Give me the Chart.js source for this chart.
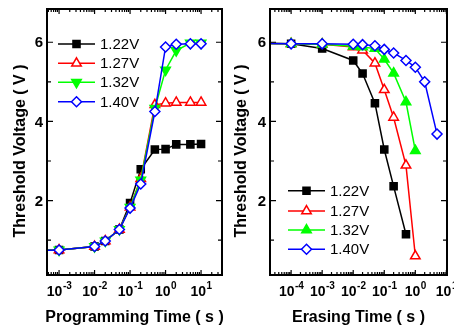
<!DOCTYPE html>
<html>
<head>
<meta charset="utf-8">
<script src="https://cdn.jsdelivr.net/npm/chart.js@4.4.1/dist/chart.umd.min.js"></script>
<style>
  body { margin: 0; background: #fff; width: 454px; height: 332px; position: relative; overflow: hidden; }
  canvas { position: absolute; top: 0; }
  #prog { left: 0; }
  #erase { left: 228px; }
</style>
</head>
<body>
<canvas id="prog" width="230" height="332" style="width:230px;height:332px"></canvas>
<canvas id="erase" width="226" height="332" style="width:226px;height:332px"></canvas>
<script>
const seriesLabels = ['1.22V', '1.27V', '1.32V', '1.40V'];

// programming (left panel), time in s
const progTime = [1e-4, 1e-3, 1e-2, 2e-2, 5e-2, 1e-1, 2e-1, 5e-1, 1, 2, 5, 10];
const prog122 = [0.73, 0.75, 0.84, 0.98, 1.27, 1.94, 2.79, 3.29, 3.30, 3.42, 3.42, 3.43];
const prog127 = [0.73, 0.75, 0.84, 0.98, 1.27, 1.83, 2.55, 4.42, 4.46, 4.48, 4.48, 4.48];
const prog132 = [0.73, 0.75, 0.84, 0.98, 1.27, 1.83, 2.52, 4.33, 5.30, 5.79, 5.98, 5.98];
const prog140 = [0.73, 0.75, 0.84, 0.98, 1.27, 1.81, 2.42, 4.25, 5.88, 5.95, 5.96, 5.96];

// erasing (right panel)
const eraseTime = [1e-5, 1e-4, 1e-3, 1e-2, 2e-2, 5e-2, 1e-1, 2e-1, 5e-1, 1, 2, 5];
const erase122 = [5.97, 5.96, 5.84, 5.54, 5.21, 4.46, 3.29, 2.36, 1.15];
const erase127 = [5.97, 5.96, 5.95, 5.88, 5.80, 5.47, 4.80, 4.10, 2.89, 0.60];
const erase132 = [5.97, 5.96, 5.95, 5.90, 5.88, 5.84, 5.57, 5.22, 4.49, 3.26];
const erase140 = [5.97, 5.96, 5.96, 5.95, 5.94, 5.91, 5.82, 5.73, 5.54, 5.37, 5.00, 3.68];

const yTicks = [2, 4, 6];
const yMinorTicks = [1, 3, 5];

const FONT = '"Liberation Sans", Arial, sans-serif';
const colors = ['#000000', '#ff0000', '#00ff00', '#0000ff'];

const pts = (xs, ys) => ys.map((v, i) => ({ x: xs[i], y: v }));

function makeSets(xs, lists, greenRot) {
  const styles = [
    { pointStyle: 'rect', fill: colors[0], radius: 5, rot: 0 },
    { pointStyle: 'triangle', fill: '#ffffff', radius: 5.5, rot: 0 },
    { pointStyle: 'triangle', fill: colors[2], radius: 5.5, rot: greenRot },
    { pointStyle: 'rectRot', fill: '#ffffff', radius: 5, rot: 0 }
  ];
  return lists.map((ys, i) => ({
    label: seriesLabels[i],
    data: pts(xs, ys),
    borderColor: colors[i],
    backgroundColor: styles[i].fill,
    pointBackgroundColor: styles[i].fill,
    pointBorderColor: colors[i],
    pointStyle: styles[i].pointStyle,
    pointRotation: styles[i].rot,
    pointRadius: styles[i].radius,
    pointBorderWidth: 1.5,
    borderWidth: 1.5,
    order: 4 - i
  }));
}

function drawMarker(ctx, ds, x, y) {
  ctx.fillStyle = ds.pointBackgroundColor;
  ctx.strokeStyle = ds.pointBorderColor;
  ctx.lineWidth = ds.pointBorderWidth;
  Chart.helpers.drawPoint(ctx, {
    pointStyle: ds.pointStyle,
    rotation: ds.pointRotation,
    radius: ds.pointRadius,
    borderWidth: ds.pointBorderWidth
  }, x, y);
}

function framePlugin(opt) {
  return {
    id: 'frame',
    afterDatasetsDraw(chart) {
      const { ctx, chartArea: a } = chart;
      const x = chart.scales.x, y = chart.scales.y;
      ctx.save();
      ctx.strokeStyle = '#000';
      ctx.fillStyle = '#000';

      // inward ticks on all four sides
      ctx.lineWidth = 1.2;
      ctx.beginPath();
      const lo = Math.floor(Math.log10(x.min)), hi = Math.ceil(Math.log10(x.max));
      for (let d = lo; d <= hi; d++) {
        for (let m = 1; m < 10; m++) {
          const v = m * Math.pow(10, d);
          if (v < x.min || v > x.max) continue;
          const px = x.getPixelForValue(v), len = m === 1 ? 5 : 3;
          ctx.moveTo(px, a.bottom); ctx.lineTo(px, a.bottom - len);
          ctx.moveTo(px, a.top); ctx.lineTo(px, a.top + len);
        }
      }
      yTicks.concat(yMinorTicks).forEach(v => {
        const py = y.getPixelForValue(v), len = yTicks.includes(v) ? 6 : 4;
        ctx.moveTo(a.left, py); ctx.lineTo(a.left + len, py);
        ctx.moveTo(a.right, py); ctx.lineTo(a.right - len, py);
      });
      ctx.stroke();
      ctx.lineWidth = 2;
      ctx.strokeRect(a.left, a.top, a.right - a.left, a.bottom - a.top);

      // y tick labels
      ctx.font = 'bold 15px ' + FONT;
      ctx.textAlign = 'right';
      ctx.textBaseline = 'middle';
      yTicks.forEach(v => ctx.fillText(String(v), a.left - 4, y.getPixelForValue(v) + 1));

      // x tick labels 10^n
      ctx.textAlign = 'left';
      ctx.textBaseline = 'alphabetic';
      for (let d = lo; d <= hi; d++) {
        const v = Math.pow(10, d);
        if (v < x.min * 0.999 || v > x.max * 1.001) continue;
        const px = x.getPixelForValue(v);
        const ex = d < 0 ? '-' + (-d) : String(d);
        ctx.font = 'bold 14px ' + FONT;
        const w1 = ctx.measureText('10').width;
        ctx.font = 'bold 10px ' + FONT;
        const w2 = ctx.measureText(ex).width;
        const sx = px - (w1 + w2) / 2;
        ctx.font = 'bold 14px ' + FONT;
        ctx.fillText('10', sx, 295.5);
        ctx.font = 'bold 10px ' + FONT;
        ctx.fillText(ex, sx + w1 + 0.5, 289);
      }

      // axis titles
      ctx.font = 'bold 16px ' + FONT;
      ctx.textAlign = 'center';
      ctx.fillText(opt.xTitle, (a.left + a.right) / 2, 322);
      ctx.save();
      ctx.translate(opt.yTitleX, 151);
      ctx.rotate(-Math.PI / 2);
      ctx.fillText('Threshold Voltage ( V )', 0, 0);
      ctx.restore();

      // legend
      ctx.font = '15px ' + FONT;
      ctx.textAlign = 'left';
      ctx.textBaseline = 'middle';
      chart.data.datasets.forEach((ds, i) => {
        const ly = opt.legendY[i];
        ctx.strokeStyle = ds.borderColor;
        ctx.lineWidth = 1.5;
        ctx.beginPath();
        ctx.moveTo(opt.legendX, ly);
        ctx.lineTo(opt.legendX + 37, ly);
        ctx.stroke();
        drawMarker(ctx, ds, opt.legendX + 18.5, ly);
        ctx.fillStyle = '#000';
        ctx.fillText(ds.label, opt.legendX + 42, ly + 1);
      });
      ctx.restore();
    }
  };
}

function makeChart(id, datasets, xMin, xMax, pad, opt) {
  return new Chart(document.getElementById(id), {
    type: 'line',
    data: { datasets },
    options: {
      responsive: false,
      animation: false,
      devicePixelRatio: 1,
      layout: { padding: pad },
      plugins: { legend: { display: false }, tooltip: { enabled: false } },
      scales: {
        x: { type: 'logarithmic', min: xMin, max: xMax, display: false },
        y: { type: 'linear', min: 0.12, max: 6.84, display: false }
      }
    },
    plugins: [framePlugin(opt)]
  });
}

makeChart('prog',
  makeSets(progTime, [prog122, prog127, prog132, prog140], 180),
  Math.pow(10, -3.34), Math.pow(10, 1.59),
  { left: 47, right: 8, top: 9, bottom: 57 },
  { xTitle: 'Programming Time ( s )', yTitleX: 24.5, legendX: 58, legendY: [44, 63.3, 82.3, 101.7] });

makeChart('erase',
  makeSets(eraseTime, [erase122, erase127, erase132, erase140], 0),
  Math.pow(10, -4.68), Math.pow(10, 1.02),
  { left: 42, right: 7, top: 9, bottom: 57 },
  { xTitle: 'Erasing Time ( s )', yTitleX: 18, legendX: 60, legendY: [190.7, 211, 230, 249.3] });
</script>
</body>
</html>
